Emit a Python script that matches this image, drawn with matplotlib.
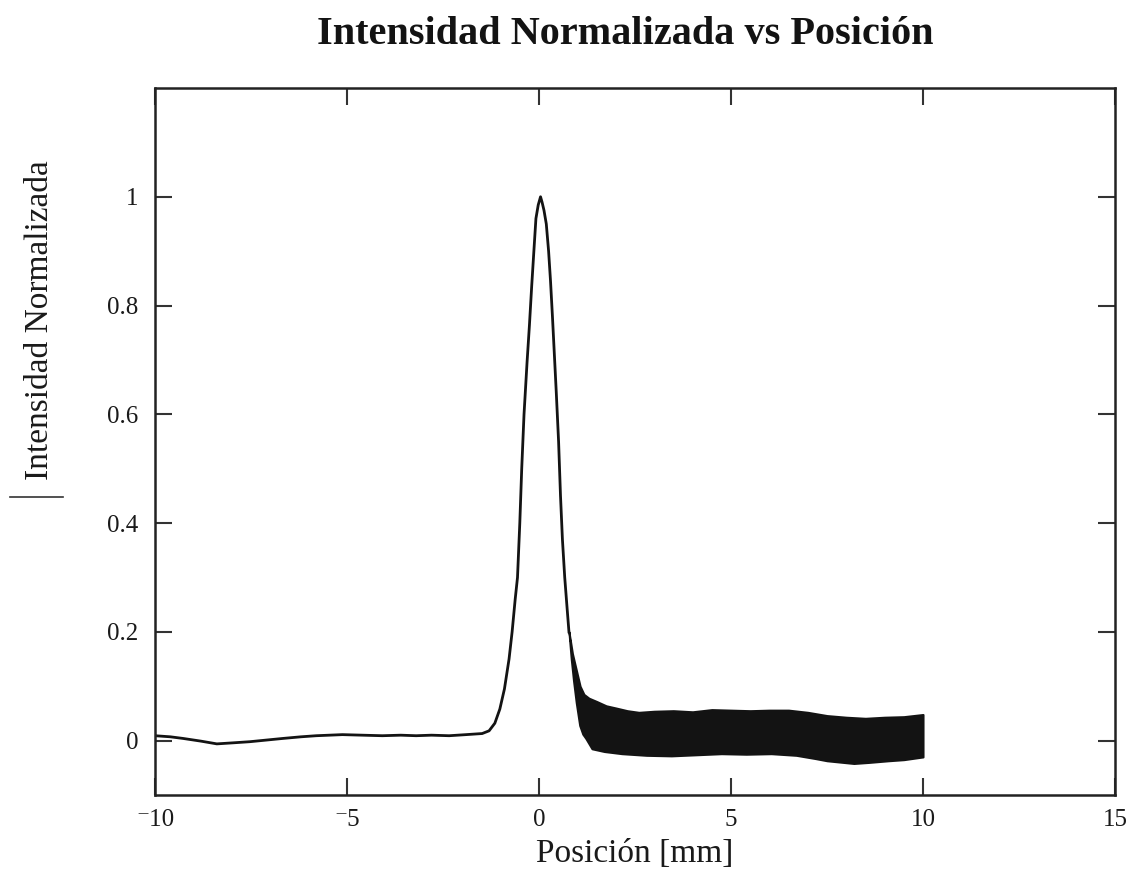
import matplotlib
matplotlib.use("Agg")
import matplotlib.pyplot as plt
import numpy as np
from matplotlib.lines import Line2D
from matplotlib.ticker import FixedLocator, FuncFormatter

# perfil de intensidad: tramo fino (linea base + pico)
pos_mm = [-10.0, -9.6, -9.27, -8.8, -8.39, -7.95, -7.53, -7.1, -6.67, -6.2,
          -5.8, -5.12, -4.6, -4.08, -3.6, -3.2, -2.8, -2.34, -1.9, -1.48,
          -1.3, -1.15, -1.02, -0.9, -0.78, -0.70, -0.62, -0.56, -0.50, -0.45,
          -0.39, -0.31, -0.25, -0.19, -0.13, -0.08, -0.02, 0.04, 0.08, 0.13,
          0.19, 0.25, 0.30, 0.35, 0.40, 0.45, 0.51, 0.56, 0.61, 0.67,
          0.73, 0.78]
intensidad = [0.009, 0.007, 0.004, -0.001, -0.006, -0.004, -0.002, 0.001, 0.004, 0.007,
              0.009, 0.011, 0.010, 0.009, 0.010, 0.009, 0.010, 0.009, 0.011, 0.013,
              0.018, 0.032, 0.058, 0.095, 0.150, 0.20, 0.26, 0.30, 0.40, 0.50,
              0.60, 0.697, 0.763, 0.836, 0.904, 0.96, 0.985, 1.0, 0.99, 0.975,
              0.95, 0.90, 0.845, 0.78, 0.71, 0.64, 0.55, 0.45, 0.37, 0.30,
              0.245, 0.20]

# tramo ruidoso: envolventes superior e inferior
ruido_x_sup = [0.78, 0.87, 0.97, 1.07, 1.17, 1.3, 1.5, 1.75, 2.0, 2.3,
               2.6, 3.0, 3.5, 4.0, 4.5, 5.0, 5.5, 6.0, 6.5, 7.0,
               7.5, 8.0, 8.5, 9.0, 9.5, 10.0]
ruido_sup = [0.20, 0.16, 0.13, 0.10, 0.085, 0.078, 0.072, 0.064, 0.060, 0.055,
             0.052, 0.054, 0.055, 0.053, 0.057, 0.056, 0.055, 0.056, 0.056, 0.052,
             0.046, 0.043, 0.041, 0.043, 0.044, 0.048]
ruido_x_inf = [0.78, 0.84, 0.90, 0.97, 1.06, 1.14, 1.22, 1.38, 1.7, 2.16,
               2.8, 3.45, 4.1, 4.75, 5.4, 6.05, 6.7, 7.2, 7.5, 8.2,
               8.6, 9.1, 9.5, 10.0]
ruido_inf = [0.20, 0.15, 0.11, 0.07, 0.028, 0.012, 0.004, -0.015, -0.020, -0.024,
             -0.027, -0.028, -0.026, -0.024, -0.025, -0.024, -0.027, -0.033, -0.037, -0.042,
             -0.040, -0.037, -0.035, -0.030]

xticks = [-10, -5, 0, 5, 10, 15]
yticks = [0, 0.2, 0.4, 0.6, 0.8, 1]

plt.rcParams['font.family'] = ['Liberation Serif', 'DejaVu Serif']
tinta = '#131313'

fig = plt.figure(figsize=(11.41, 8.88), dpi=100)
ax = fig.add_axes([155/1141, 1 - 795/888, 960/1141, 707/888])

ax.plot(pos_mm, intensidad, color=tinta, lw=2.0, solid_joinstyle='round')

# banda de ruido: se rellena entre las dos envolventes
xs = np.union1d(ruido_x_sup, ruido_x_inf)
sup = np.interp(xs, ruido_x_sup, ruido_sup)
inf = np.interp(xs, ruido_x_inf, ruido_inf)
ax.fill_between(xs, inf, sup, color=tinta, lw=1.5, edgecolor=tinta)

ax.set_xlim(-10, 15)
ax.set_ylim(-0.1, 1.2)
ax.xaxis.set_major_locator(FixedLocator(xticks))
ax.yaxis.set_major_locator(FixedLocator(yticks))
ax.xaxis.set_major_formatter(FuncFormatter(
    lambda v, p: ('\u207b%d' % abs(v)) if v < 0 else '%d' % v))
ax.yaxis.set_major_formatter(FuncFormatter(lambda v, p: '%g' % v))
ax.tick_params(direction='in', length=12, width=1.5, color='#333333',
               top=True, right=True, labelsize=18, labelcolor='#1a1a1a')
ax.tick_params(axis='x', pad=10)
ax.tick_params(axis='y', pad=12)
for s in ax.spines.values():
    s.set_linewidth(1.8)
    s.set_color('#222222')

ax.set_xlabel('Posición [mm]', fontsize=24, color='#1a1a1a')
ax.xaxis.set_label_coords(0.5, -0.062)
fig.text(40/1141, 1 - 320/888, 'Intensidad Normalizada', rotation=90,
         ha='center', va='center', fontsize=24, color='#1a1a1a')
fig.add_artist(Line2D([10/1141, 63/1141], [1 - 497/888, 1 - 497/888],
                      transform=fig.transFigure, color='#333333', lw=1.2))
fig.text(625/1141, 1 - 35/888, 'Intensidad Normalizada vs Posición',
         ha='center', va='center', fontsize=29, fontweight='bold', color='#131313')

fig.savefig('out.png', dpi=100)
